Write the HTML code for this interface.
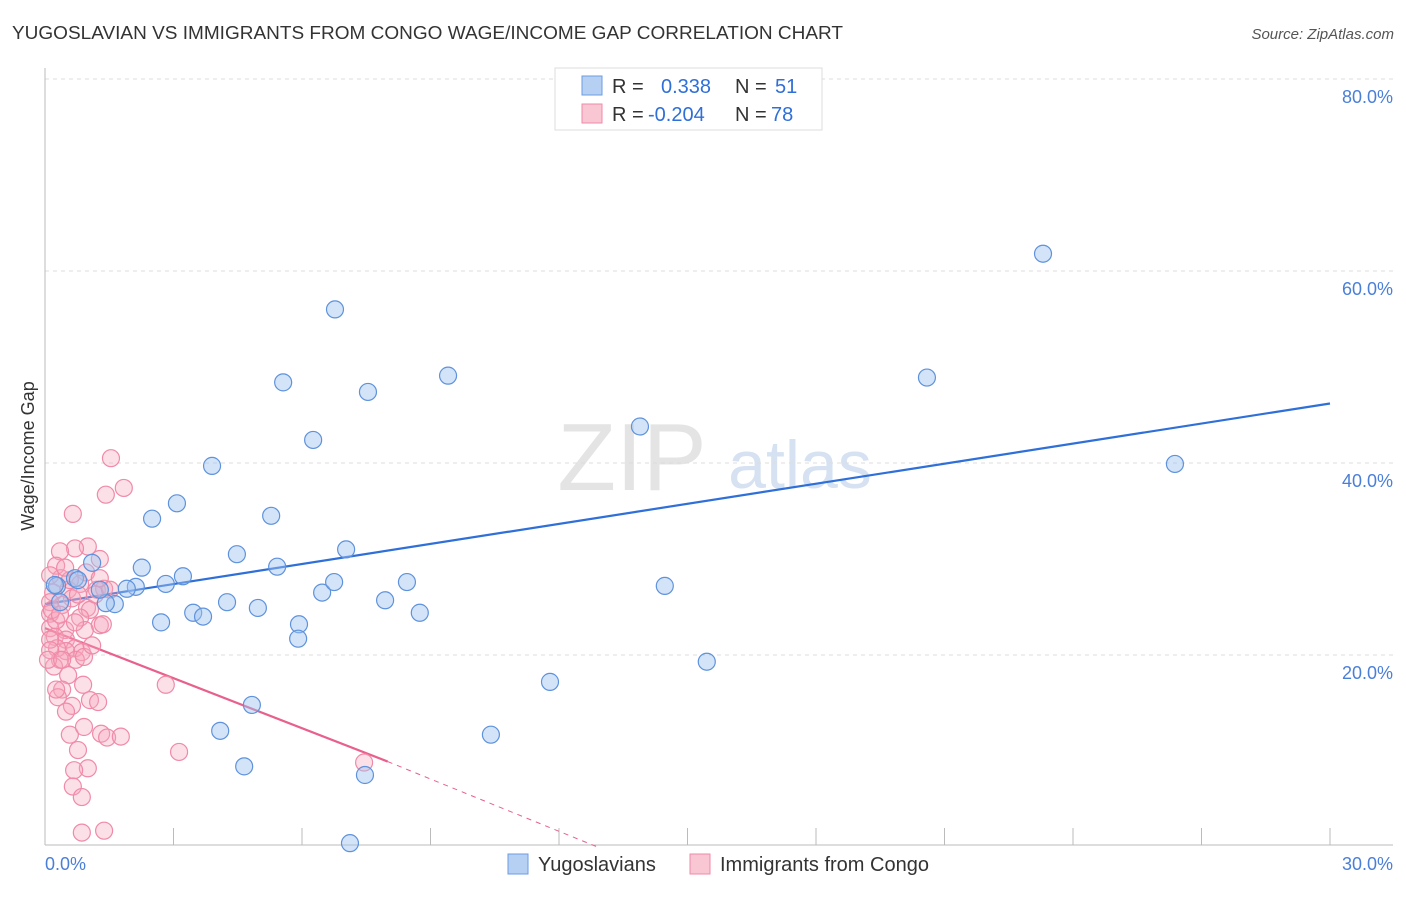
<!DOCTYPE html>
<html><head><meta charset="utf-8"><style>
body{margin:0;background:#fff;font-family:"Liberation Sans",sans-serif}
svg text{font-family:"Liberation Sans",sans-serif}
</style></head><body>
<svg id="chart" width="1406" height="892">
<text x="12" y="39" font-size="18" fill="#333" textLength="831" lengthAdjust="spacingAndGlyphs">YUGOSLAVIAN VS IMMIGRANTS FROM CONGO WAGE/INCOME GAP CORRELATION CHART</text>
<text x="1394" y="39" font-size="15" fill="#555" font-style="italic" text-anchor="end">Source: ZipAtlas.com</text>
<text x="632" y="490" font-size="96" fill="#e4e4e4" font-family="Liberation Serif" text-anchor="middle">ZIP</text>
<text x="800" y="488" font-size="68" fill="#d6e2f2" text-anchor="middle">atlas</text>
<g id="grid"></g><g id="ticks"></g><g id="trend"></g><g id="pts"></g>
<text transform="translate(34,456) rotate(-90)" font-size="18" fill="#333" text-anchor="middle">Wage/Income Gap</text>
<text x="45" y="870" font-size="18" fill="#4a7fd8">0.0%</text>
<text x="1393" y="870" font-size="18" fill="#4a7fd8" text-anchor="end">30.0%</text>
<g>
<rect x="555" y="68" width="267" height="62" fill="#fff" stroke="#ddd"/>
<rect x="582" y="76" width="20" height="19" fill="#b6d0f4" stroke="#6a9be0"/>
<rect x="582" y="104" width="20" height="19" fill="#f9c6d4" stroke="#f08aa8"/>
<text x="612" y="93" font-size="20" fill="#333">R =  <tspan x="661" fill="#2f6fd8">0.338</tspan><tspan x="735" fill="#333">N = </tspan><tspan x="775" fill="#2f6fd8">51</tspan></text>
<text x="612" y="121" font-size="20" fill="#333">R = <tspan x="648" fill="#2f6fd8">-0.204</tspan><tspan x="735" fill="#333">N = </tspan><tspan x="771" fill="#2f6fd8">78</tspan></text>
</g>
<g>
<rect x="508" y="854" width="20" height="20" fill="#b6d0f4" stroke="#6a9be0"/>
<text x="538" y="871" font-size="20" fill="#333">Yugoslavians</text>
<rect x="690" y="854" width="20" height="20" fill="#f9c6d4" stroke="#f08aa8"/>
<text x="720" y="871" font-size="20" fill="#333">Immigrants from Congo</text>
</g>
</svg>
<script>
const yTicks=[20,40,60,80];
const yTickLabels=["20.0%","40.0%","60.0%","80.0%"];
const xTicks=[0,3,6,9,12,15,18,21,24,27,30];
const blueX=[6.77,23.3,5.56,7.54,9.41,20.59,6.26,13.89,26.38,3.9,3.08,2.5,5.28,4.48,7.03,2.26,1.1,5.42,3.22,2.82,0.7,0.28,2.12,1.91,1.63,1.42,4.25,4.97,6.47,6.75,7.94,8.45,8.75,3.46,3.69,2.71,5.93,5.91,14.47,15.45,11.79,4.83,4.09,10.41,4.65,7.47,7.12,0.23,0.77,0.35,1.28];
const blueY=[56,61.8,48.4,47.4,49.1,48.9,42.4,43.8,39.9,39.7,35.8,34.2,34.5,30.5,31,29.1,29.6,29.2,28.2,27.4,28,27.2,27.1,26.9,25.3,25.4,25.5,24.9,26.5,27.6,25.7,27.6,24.4,24.4,24,23.4,23.2,21.7,27.2,19.3,17.2,14.8,12.1,11.7,8.4,7.5,0.4,27.3,27.8,25.5,26.8];
const pinkX=[1.54,1.84,1.42,0.65,1.28,1,0.7,0.35,0.26,1.21,0.96,0.37,0.82,0.54,0.19,1.38,0.63,0.98,0.4,0.12,0.12,1.05,0.82,1.28,1.35,0.47,0.12,0.23,0.49,0.7,0.86,0.49,0.28,0.72,0.35,0.21,0.91,0.54,0.4,0.89,0.3,0.63,1.05,1.24,0.49,0.58,0.91,1.31,1.45,1.77,0.77,1,0.68,0.65,0.86,1.38,2.82,3.13,7.45,0.12,0.12,0.12,0.07,0.26,0.58,1.17,1.52,0.47,0.77,0.16,0.93,0.35,0.7,1.1,0.4,0.26,1.28,0.86];
const pinkY=[40.5,37.4,36.7,34.7,30,31.3,31.1,30.8,29.3,26.8,28.6,28,27.4,26.8,26.5,26.9,25.9,24.9,25.2,25.5,24.3,24.7,23.9,23.1,23.2,22.6,22.8,21.9,21.6,20.7,20.3,20.4,20.7,19.5,19.5,18.8,19.8,17.9,16.4,16.9,15.6,14.7,15.3,15.1,14.1,11.7,12.5,11.8,11.4,11.5,10.1,8.2,8,6.3,1.5,1.7,16.9,9.9,8.8,28.3,21.6,20.5,19.5,23.6,27.8,26.3,26.8,29.1,26.3,24.7,22.6,24.2,23.4,21,19.5,16.4,28,5.2];
const blueTrend=[25.3,46.2];
const pinkTrend=[22.8,8.9,0];
const pinkTrendX=[0,8.0,12.9];
const NS="http://www.w3.org/2000/svg";
const sx=v=>45+v/30*1285;
const sy=v=>847-v/20*192;
function mk(t,a,p){const e=document.createElementNS(NS,t);for(const k in a)e.setAttribute(k,a[k]);p.appendChild(e);return e;}
const grid=document.getElementById('grid'),ticks=document.getElementById('ticks'),trend=document.getElementById('trend'),pts=document.getElementById('pts');
yTicks.forEach((v,i)=>{
 const l=mk('line',{x1:45,x2:1393,y1:sy(v),y2:sy(v),stroke:'#ddd','stroke-dasharray':'4,4'},grid);
 
 
 const t=mk('text',{x:1393,y:sy(v)+24,'font-size':18,fill:'#4a7fd8','text-anchor':'end'},grid);
 t.textContent=yTickLabels[i];
 
 
});
const ax=mk('line',{x1:45,x2:1393,y1:845,y2:845,stroke:'#bbb'},ticks);


const ay=mk('line',{x1:45,x2:45,y1:68,y2:845,stroke:'#bbb'},ticks);


xTicks.forEach(v=>{
 const l=mk('line',{x1:sx(v),x2:sx(v),y1:828,y2:845,stroke:'#bbb'},ticks);
 
 
});
function dot(x,y,f,s,n){const c=mk('circle',{cx:sx(x),cy:sy(y),r:8.5,fill:f,stroke:s,'stroke-width':1.2},pts);
 
 }
pinkX.forEach((x,i)=>dot(x,pinkY[i],'rgba(245,165,188,0.35)','#f08aa8','congo-point'));
blueX.forEach((x,i)=>dot(x,blueY[i],'rgba(160,196,240,0.45)','#5e92dc','yugoslavian-point'));
const bl=mk('line',{x1:sx(0),y1:sy(blueTrend[0]),x2:sx(30),y2:sy(blueTrend[1]),stroke:'#2f6fd8','stroke-width':2.2},trend);


const pl=mk('line',{x1:sx(pinkTrendX[0]),y1:sy(pinkTrend[0]),x2:sx(pinkTrendX[1]),y2:sy(pinkTrend[1]),stroke:'#e8608c','stroke-width':2.2},trend);


const pd=mk('line',{x1:sx(pinkTrendX[1]),y1:sy(pinkTrend[1]),x2:sx(pinkTrendX[2]),y2:sy(pinkTrend[2]),stroke:'#e8608c','stroke-width':1,'stroke-dasharray':'5,5'},trend);


</script>
</body></html>
